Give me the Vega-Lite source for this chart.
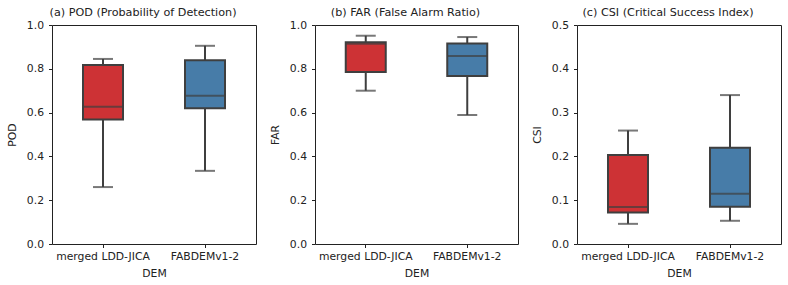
{
  "$schema": "https://vega.github.io/schema/vega-lite/v6.json",
  "padding": {"left": 5, "top": 6, "right": 5, "bottom": 0},
  "background": "white",
  "data": {"values": [
    {"metric": "POD", "DEM": "merged LDD-JICA", "lower": 0.26, "q1": 0.569, "median": 0.627, "q3": 0.817, "upper": 0.845},
    {"metric": "POD", "DEM": "FABDEMv1-2", "lower": 0.334, "q1": 0.62, "median": 0.677, "q3": 0.839, "upper": 0.905},
    {"metric": "FAR", "DEM": "merged LDD-JICA", "lower": 0.70, "q1": 0.785, "median": 0.914, "q3": 0.921, "upper": 0.951},
    {"metric": "FAR", "DEM": "FABDEMv1-2", "lower": 0.589, "q1": 0.767, "median": 0.858, "q3": 0.915, "upper": 0.945},
    {"metric": "CSI", "DEM": "merged LDD-JICA", "lower": 0.046, "q1": 0.072, "median": 0.0845, "q3": 0.203, "upper": 0.259},
    {"metric": "CSI", "DEM": "FABDEMv1-2", "lower": 0.053, "q1": 0.085, "median": 0.115, "q3": 0.22, "upper": 0.34}
  ]},
  "bounds": "flush",
  "spacing": 59,
  "hconcat": [
    {
      "width": 204, "height": 219,
      "title": {"text": "(a)  POD (Probability of Detection)", "dx": -11},
      "transform": [{"filter": "datum.metric === 'POD'"}],
      "encoding": {
        "x": {"field": "DEM", "type": "nominal", "sort": ["merged LDD-JICA", "FABDEMv1-2"], "scale": {"paddingInner": 0, "paddingOuter": 0}, "axis": {"labelAngle": 0, "title": "DEM"}}
      },
      "layer": [
        {"mark": {"type": "rule", "color": "#3f3f3f", "strokeWidth": 2}, "encoding": {"y": {"field": "lower", "type": "quantitative", "scale": {"domain": [0, 1]}, "axis": {"title": "POD", "values": [0, 0.2, 0.4, 0.6, 0.8, 1.0], "format": ".1f"}}, "y2": {"field": "upper"}}},
        {"mark": {"type": "tick", "color": "#3f3f3f", "thickness": 2, "size": 20}, "encoding": {"y": {"field": "upper", "type": "quantitative"}}},
        {"mark": {"type": "tick", "color": "#3f3f3f", "thickness": 2, "size": 20}, "encoding": {"y": {"field": "lower", "type": "quantitative"}}},
        {"mark": {"type": "bar", "width": 40, "stroke": "#3f3f3f", "strokeWidth": 2, "opacity": 1}, "encoding": {"y": {"field": "q1", "type": "quantitative"}, "y2": {"field": "q3"}, "color": {"field": "DEM", "type": "nominal", "scale": {"domain": ["merged LDD-JICA", "FABDEMv1-2"], "range": ["#cd3235", "#477ca8"]}, "legend": null}}},
        {"mark": {"type": "tick", "color": "#3f3f3f", "thickness": 2, "size": 40}, "encoding": {"y": {"field": "median", "type": "quantitative"}}}
      ]
    },
    {
      "width": 203, "height": 219,
      "title": {"text": "(b)  FAR (False Alarm Ratio)", "dx": -11},
      "transform": [{"filter": "datum.metric === 'FAR'"}],
      "encoding": {
        "x": {"field": "DEM", "type": "nominal", "sort": ["merged LDD-JICA", "FABDEMv1-2"], "scale": {"paddingInner": 0, "paddingOuter": 0}, "axis": {"labelAngle": 0, "title": "DEM"}}
      },
      "layer": [
        {"mark": {"type": "rule", "color": "#3f3f3f", "strokeWidth": 2}, "encoding": {"y": {"field": "lower", "type": "quantitative", "scale": {"domain": [0, 1]}, "axis": {"title": "FAR", "values": [0, 0.2, 0.4, 0.6, 0.8, 1.0], "format": ".1f"}}, "y2": {"field": "upper"}}},
        {"mark": {"type": "tick", "color": "#3f3f3f", "thickness": 2, "size": 20}, "encoding": {"y": {"field": "upper", "type": "quantitative"}}},
        {"mark": {"type": "tick", "color": "#3f3f3f", "thickness": 2, "size": 20}, "encoding": {"y": {"field": "lower", "type": "quantitative"}}},
        {"mark": {"type": "bar", "width": 40, "stroke": "#3f3f3f", "strokeWidth": 2, "opacity": 1}, "encoding": {"y": {"field": "q1", "type": "quantitative"}, "y2": {"field": "q3"}, "color": {"field": "DEM", "type": "nominal", "scale": {"domain": ["merged LDD-JICA", "FABDEMv1-2"], "range": ["#cd3235", "#477ca8"]}, "legend": null}}},
        {"mark": {"type": "tick", "color": "#3f3f3f", "thickness": 2, "size": 40}, "encoding": {"y": {"field": "median", "type": "quantitative"}}}
      ]
    },
    {
      "width": 204, "height": 219,
      "title": {"text": "(c)  CSI (Critical Success Index)", "dx": -11},
      "transform": [{"filter": "datum.metric === 'CSI'"}],
      "encoding": {
        "x": {"field": "DEM", "type": "nominal", "sort": ["merged LDD-JICA", "FABDEMv1-2"], "scale": {"paddingInner": 0, "paddingOuter": 0}, "axis": {"labelAngle": 0, "title": "DEM"}}
      },
      "layer": [
        {"mark": {"type": "rule", "color": "#3f3f3f", "strokeWidth": 2}, "encoding": {"y": {"field": "lower", "type": "quantitative", "scale": {"domain": [0, 0.5]}, "axis": {"title": "CSI", "values": [0, 0.1, 0.2, 0.3, 0.4, 0.5], "format": ".1f"}}, "y2": {"field": "upper"}}},
        {"mark": {"type": "tick", "color": "#3f3f3f", "thickness": 2, "size": 20}, "encoding": {"y": {"field": "upper", "type": "quantitative"}}},
        {"mark": {"type": "tick", "color": "#3f3f3f", "thickness": 2, "size": 20}, "encoding": {"y": {"field": "lower", "type": "quantitative"}}},
        {"mark": {"type": "bar", "width": 40, "stroke": "#3f3f3f", "strokeWidth": 2, "opacity": 1}, "encoding": {"y": {"field": "q1", "type": "quantitative"}, "y2": {"field": "q3"}, "color": {"field": "DEM", "type": "nominal", "scale": {"domain": ["merged LDD-JICA", "FABDEMv1-2"], "range": ["#cd3235", "#477ca8"]}, "legend": null}}},
        {"mark": {"type": "tick", "color": "#3f3f3f", "thickness": 2, "size": 40}, "encoding": {"y": {"field": "median", "type": "quantitative"}}}
      ]
    }
  ],
  "config": {
    "font": "DejaVu Sans",
    "view": {"stroke": "#222222", "strokeWidth": 1},
    "title": {"fontSize": 11.2, "fontWeight": "normal", "color": "#222222", "anchor": "middle", "offset": 1},
    "axis": {"grid": false, "labelFont": "DejaVu Sans", "titleFont": "DejaVu Sans", "labelFontSize": 10.8, "titleFontSize": 10.8, "titleFontWeight": "normal", "labelColor": "#222222", "titleColor": "#222222", "tickColor": "#222222", "domainColor": "#222222", "tickSize": 3.5, "labelPadding": 3, "titlePadding": 6, "domain": false},
    "axisY": {"labelPadding": 5, "titlePadding": 9}
  }
}
